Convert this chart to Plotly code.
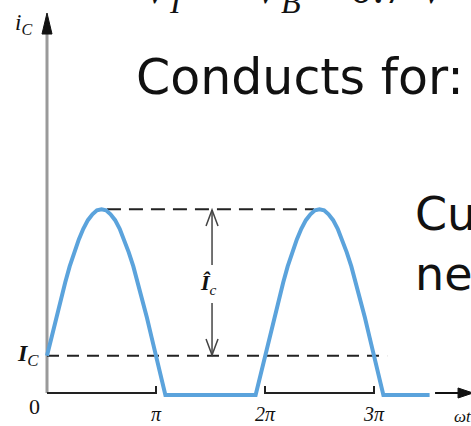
import plotly.graph_objects as go

# Collector current over three half-periods (x in units of pi, y in units of I_C)
wt_over_pi = [0.0, 0.042, 0.083, 0.125, 0.167, 0.208, 0.25, 0.292, 0.333, 0.375, 0.417, 0.458,
              0.5, 0.542, 0.583, 0.625, 0.667, 0.708, 0.75, 0.792, 0.833, 0.875, 0.917, 0.958,
              1.0, 1.086, 1.914,
              2.0, 2.042, 2.083, 2.125, 2.167, 2.208, 2.25, 2.292, 2.333, 2.375, 2.417, 2.458,
              2.5, 2.542, 2.583, 2.625, 2.667, 2.708, 2.75, 2.792, 2.833, 2.875, 2.917, 2.958,
              3.0, 3.086, 3.51]
ic_values = [1.0, 1.49, 1.97, 2.43, 2.87, 3.28, 3.64, 3.97, 4.24, 4.46, 4.61, 4.71,
             4.74, 4.71, 4.61, 4.46, 4.24, 3.97, 3.64, 3.28, 2.87, 2.43, 1.97, 1.49,
             1.0, 0.0, 0.0,
             1.0, 1.49, 1.97, 2.43, 2.87, 3.28, 3.64, 3.97, 4.24, 4.46, 4.61, 4.71,
             4.74, 4.71, 4.61, 4.46, 4.24, 3.97, 3.64, 3.28, 2.87, 2.43, 1.97, 1.49,
             1.0, 0.0, 0.0]

quiescent_level = 1.0   # I_C
peak_level = 4.74       # I_C + Î_c

tick_positions = [1, 2, 3]
tick_labels = ["π", "2π", "3π"]

W, H = 471, 426
X_RANGE = [-0.4312, 3.8899]
Y_RANGE = [-0.791, 10.077]

SERIF = "Liberation Serif"
SANS = "DejaVu Sans"
BLUE = "#5ba3dc"
INK = "#222222"
NB = "\u00a0"


def px_x(px):
    return px / W


def px_y(py):
    return 1 - py / H


fig = go.Figure()
fig.add_trace(go.Scatter(
    x=wt_over_pi, y=ic_values, mode="lines",
    line=dict(color=BLUE, width=4), hoverinfo="skip",
))

shapes = []
# vertical i_C axis (gray shaft + black arrowhead)
shapes.append(dict(type="line", x0=0, x1=0, y0=0.05, y1=9.3,
                   line=dict(color="#9a9a9a", width=3)))
shapes.append(dict(type="path", path="M -0.046,9.209 L 0,9.745 L 0.046,9.209 Z",
                   fillcolor="#111111", line=dict(color="#111111", width=1)))
# horizontal brackets marking conduction intervals
shapes.append(dict(type="path", path="M 0,0.051 L 1,0.051 L 1,0.23",
                   line=dict(color=INK, width=2)))
shapes.append(dict(type="path", path="M 2,0.23 L 2,0.051 L 3,0.051 L 3,0.23",
                   line=dict(color=INK, width=2)))
# omega-t axis arrow
shapes.append(dict(type="line", x0=3.56, x1=3.79, y0=0.051, y1=0.051,
                   line=dict(color="#111111", width=2)))
shapes.append(dict(type="path", path="M 3.771,0.179 L 3.908,0.051 L 3.771,-0.077 Z",
                   fillcolor="#111111", line=dict(color="#111111", width=1)))
# dashed reference levels
shapes.append(dict(type="line", x0=0.0, x1=3.12, y0=quiescent_level, y1=quiescent_level,
                   line=dict(color=INK, width=2, dash="12px,8px")))
shapes.append(dict(type="line", x0=0.55, x1=2.45, y0=peak_level, y1=peak_level,
                   line=dict(color=INK, width=2, dash="14px,8px")))
# amplitude dimension arrow
dim_x = 1.514
shapes.append(dict(type="line", x0=dim_x, x1=dim_x, y0=peak_level - 0.02, y1=3.316,
                   line=dict(color="#444444", width=1.5)))
shapes.append(dict(type="line", x0=dim_x, x1=dim_x, y0=2.347, y1=quiescent_level + 0.02,
                   line=dict(color="#444444", width=1.5)))
shapes.append(dict(type="path",
                   path=f"M {dim_x - 0.055},{peak_level - 0.43} L {dim_x},{peak_level - 0.02} L {dim_x + 0.055},{peak_level - 0.43}",
                   line=dict(color="#444444", width=1.5)))
shapes.append(dict(type="path",
                   path=f"M {dim_x - 0.055},{quiescent_level + 0.43} L {dim_x},{quiescent_level + 0.02} L {dim_x + 0.055},{quiescent_level + 0.43}",
                   line=dict(color="#444444", width=1.5)))
for s in shapes:
    s.setdefault("xref", "x")
    s.setdefault("yref", "y")
    s["layer"] = "below"

annotations = []


def label(text, x, y, size, family=SERIF, xref="paper", yref="paper",
          xanchor="center", yanchor="middle", color="#111111"):
    annotations.append(dict(text=text, x=x, y=y, xref=xref, yref=yref,
                            xanchor=xanchor, yanchor=yanchor, showarrow=False,
                            font=dict(family=family, size=size, color=color)))


label("<i>i<sub>C</sub></i>", px_x(23), px_y(24), 23)
label("<b><i>I</i></b><sub><i>C</i></sub>", px_x(28), px_y(355), 24)
label("0", px_x(34), px_y(406), 22)
for pos, txt in zip(tick_positions, tick_labels):
    label(f"<i>{txt}</i>", pos, px_y(414), 20, xref="x")
label("<i>ωt</i>", px_x(452), px_y(416), 17, xanchor="left")
label("<b><i>Î</i></b><sub><i>c</i></sub>", px_x(208), px_y(284), 22)

# slide text around the diagram
equation = (f"<i>V<sub>I</sub></i>{NB}{NB}+{NB}{NB}<i>V<sub>B</sub></i>"
            f"{NB}={NB}0.7{NB}<i>V</i>")
label(equation, px_x(140), px_y(-9), 46, xanchor="left")
label("Conducts for:", px_x(134), px_y(78), 49, family=SANS, xanchor="left")
label("Current", px_x(413), px_y(214), 46, family=SANS, xanchor="left")
label("never", px_x(413), px_y(274), 46, family=SANS, xanchor="left")

fig.update_layout(
    width=W, height=H,
    margin=dict(l=0, r=0, t=0, b=0),
    paper_bgcolor="white", plot_bgcolor="white",
    showlegend=False,
    xaxis=dict(range=X_RANGE, visible=False, fixedrange=True),
    yaxis=dict(range=Y_RANGE, visible=False, fixedrange=True),
    shapes=shapes,
    annotations=annotations,
)

fig.write_html("out.html", config={"displayModeBar": False})
